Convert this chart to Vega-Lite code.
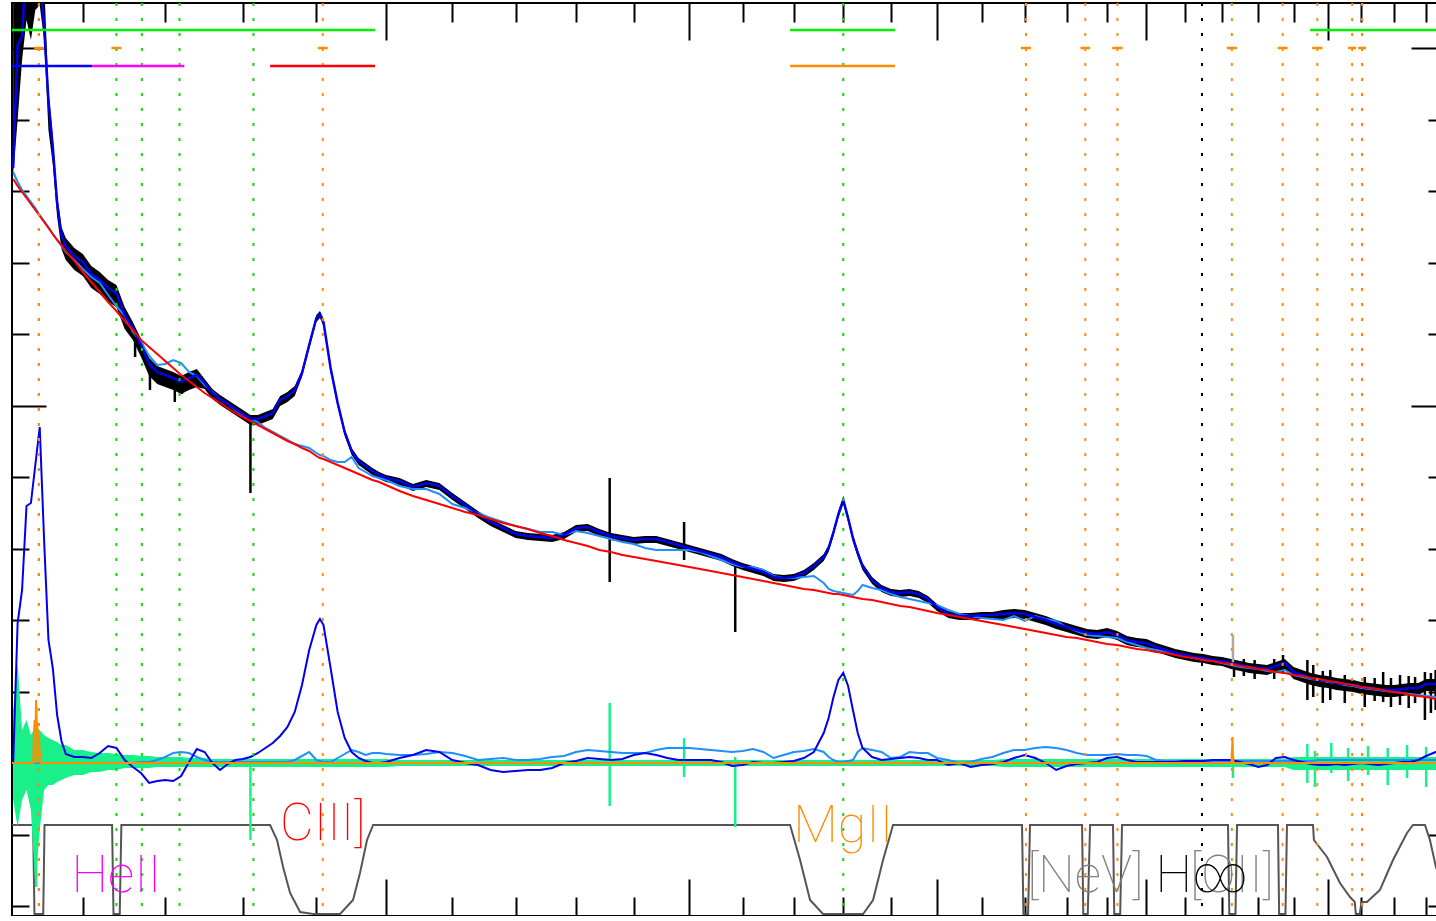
{
"$schema":"https://vega.github.io/schema/vega-lite/v6.json",
"width":1433,"height":913,
"padding":{"left":12,"top":3,"right":0,"bottom":0},
"autosize":{"type":"none"},
"background":"white",
"config":{"view":{"stroke":"#000","strokeWidth":2}},
"resolve":{"scale":{"color":"independent"},"axis":{"x":"independent","y":"independent"}},
"datasets":{
"spec":[
{"w":1520,"b":59.5,"c":59.1,"p":58.4,"hi":81.3,"lo":58.8,"r":0,"f":0,"gh":5.3,"gl":-3.7},
{"w":1525,"b":71.8,"c":58.1,"p":57.7,"hi":81.3,"lo":64.3,"r":14.0,"f":0,"gh":10.0,"gl":-6.4},
{"w":1530,"b":72.7,"c":57.3,"p":57.1,"hi":81.3,"lo":70.3,"r":17.3,"f":0,"gh":3.3,"gl":-3.7},
{"w":1535,"b":80.3,"c":56.7,"p":56.5,"hi":81.3,"lo":74.3,"r":25.7,"f":0,"gh":4.3,"gl":-2.7},
{"w":1540,"b":82.3,"c":56.1,"p":55.9,"hi":85,"lo":72.3,"r":26.0,"f":0,"gh":2.8,"gl":-4.7},
{"w":1545,"b":82.3,"c":55.5,"p":55.3,"hi":85,"lo":75.3,"r":29.8,"f":0,"gh":3.6,"gl":-12.4},
{"w":1550,"b":79.3,"c":54.8,"p":54.7,"hi":85,"lo":75.8,"r":33.6,"f":0,"gh":3.3,"gl":-6.7},
{"w":1555,"b":73.6,"c":54.2,"p":54.1,"hi":78.3,"lo":72.3,"r":22.3,"f":0,"gh":2.8,"gl":-2.7},
{"w":1560,"b":66.3,"c":53.6,"p":53.5,"hi":67.3,"lo":63.3,"r":12.3,"f":0,"gh":2.5,"gl":-2.2},
{"w":1565,"b":61.6,"c":52.9,"p":52.9,"hi":62.6,"lo":59.8,"r":9.5,"f":0,"gh":2.3,"gl":-2.2},
{"w":1570,"b":56.0,"c":52.3,"p":52.3,"hi":56.8,"lo":54.6,"r":4.8,"f":0,"gh":2.1,"gl":-1.9},
{"w":1575,"b":52.8,"c":51.7,"p":51.8,"hi":53.6,"lo":51.4,"r":2.2,"f":0,"gh":1.8,"gl":-1.7},
{"w":1580,"b":51.7,"c":51.1,"p":51.2,"hi":52.5,"lo":50.3,"r":0.9,"f":0,"gh":1.8,"gl":-1.5},
{"w":1590,"b":50.7,"c":50.3,"p":50.2,"hi":51.5,"lo":49.3,"r":0.6,"f":0,"gh":1.3,"gl":-1.2},
{"w":1600,"b":50.1,"c":49.4,"p":49.1,"hi":50.9,"lo":48.7,"r":0.6,"f":0,"gh":1.3,"gl":-1.2},
{"w":1610,"b":48.9,"c":48.6,"p":48.1,"hi":49.7,"lo":47.5,"r":0.5,"f":0,"gh":1.1,"gl":-0.9},
{"w":1620,"b":48.3,"c":48.0,"p":47.1,"hi":49.1,"lo":46.9,"r":1.0,"f":0,"gh":1.0,"gl":-0.9},
{"w":1630,"b":47.5,"c":46.8,"p":46.1,"hi":48.3,"lo":46.1,"r":1.7,"f":0,"gh":1.0,"gl":-0.7},
{"w":1640,"b":47.0,"c":45.7,"p":45.2,"hi":47.8,"lo":45.6,"r":1.5,"f":0,"gh":0.9,"gl":-0.7},
{"w":1650,"b":44.8,"c":44.7,"p":44.2,"hi":45.6,"lo":43.4,"r":0.3,"f":0,"gh":0.8,"gl":-0.5},
{"w":1660,"b":43.5,"c":43.1,"p":43.3,"hi":44.1,"lo":42.3,"r":-0.4,"f":0,"gh":0.8,"gl":-0.5},
{"w":1670,"b":41.8,"c":42.1,"p":42.3,"hi":42.4,"lo":40.6,"r":-1.0,"f":0.1,"gh":0.7,"gl":-0.5},
{"w":1680,"b":39.9,"c":40.7,"p":41.6,"hi":40.5,"lo":38.7,"r":-2.0,"f":0.1,"gh":0.7,"gl":-0.5},
{"w":1690,"b":39.1,"c":39.8,"p":40.9,"hi":39.7,"lo":37.9,"r":-1.8,"f":0.3,"gh":0.6,"gl":-0.4},
{"w":1700,"b":38.8,"c":39.9,"p":40.2,"hi":39.4,"lo":37.6,"r":-1.7,"f":0.6,"gh":0.6,"gl":-0.4},
{"w":1710,"b":38.5,"c":40.3,"p":39.5,"hi":39.1,"lo":37.3,"r":-1.8,"f":1.0,"gh":0.6,"gl":-0.4},
{"w":1720,"b":38.1,"c":40.0,"p":38.8,"hi":38.7,"lo":36.9,"r":-1.3,"f":1.1,"gh":0.6,"gl":-0.4},
{"w":1730,"b":38.5,"c":39.1,"p":38.2,"hi":39.1,"lo":37.3,"r":0.1,"f":1.0,"gh":0.5,"gl":-0.4},
{"w":1740,"b":38.8,"c":38.7,"p":37.6,"hi":39.4,"lo":37.6,"r":1.4,"f":0.6,"gh":0.5,"gl":-0.4},
{"w":1750,"b":38.0,"c":37.8,"p":37.0,"hi":38.4,"lo":37.4,"r":1.1,"f":0.3,"gh":0.5,"gl":-0.4},
{"w":1760,"b":37.0,"c":37.1,"p":36.5,"hi":37.4,"lo":36.4,"r":0,"f":0.1,"gh":0.4,"gl":-0.4},
{"w":1770,"b":36.4,"c":36.4,"p":36.0,"hi":36.8,"lo":35.8,"r":-0.7,"f":0.1,"gh":0.4,"gl":-0.4},
{"w":1780,"b":35.9,"c":35.9,"p":35.5,"hi":36.3,"lo":35.3,"r":-0.1,"f":0.1,"gh":0.4,"gl":-0.4},
{"w":1790,"b":35.4,"c":35.3,"p":35.0,"hi":35.8,"lo":34.8,"r":0.3,"f":0.1,"gh":0.4,"gl":-0.4},
{"w":1800,"b":34.9,"c":34.8,"p":34.6,"hi":35.3,"lo":34.3,"r":0.4,"f":0.1,"gh":0.4,"gl":-0.4},
{"w":1810,"b":34.4,"c":34.4,"p":34.2,"hi":34.8,"lo":33.8,"r":0.6,"f":0.1,"gh":0.4,"gl":-0.4},
{"w":1820,"b":34.4,"c":34.1,"p":33.8,"hi":34.8,"lo":33.8,"r":1.0,"f":0.1,"gh":0.4,"gl":-0.4},
{"w":1830,"b":34.7,"c":33.5,"p":33.4,"hi":35.1,"lo":34.1,"r":1.5,"f":0.1,"gh":0.4,"gl":-0.4},
{"w":1840,"b":35.0,"c":33.1,"p":33.0,"hi":35.4,"lo":34.4,"r":2.0,"f":0.1,"gh":0.4,"gl":-0.4},
{"w":1850,"b":36.3,"c":32.7,"p":32.6,"hi":36.7,"lo":35.7,"r":2.7,"f":0.1,"gh":0.4,"gl":-0.4},
{"w":1860,"b":36.7,"c":32.3,"p":32.2,"hi":37.1,"lo":36.1,"r":3.6,"f":0.1,"gh":0.4,"gl":-0.4},
{"w":1870,"b":37.3,"c":31.9,"p":31.9,"hi":37.7,"lo":36.7,"r":5.1,"f":0.3,"gh":0.4,"gl":-0.4},
{"w":1880,"b":39.0,"c":31.7,"p":31.5,"hi":39.3,"lo":38.6,"r":7.8,"f":0.7,"gh":0.4,"gl":-0.4},
{"w":1890,"b":41.8,"c":31.5,"p":31.2,"hi":42.1,"lo":41.4,"r":11.3,"f":1.1,"gh":0.4,"gl":-0.4},
{"w":1900,"b":44.5,"c":31.0,"p":30.7,"hi":44.8,"lo":44.1,"r":13.8,"f":0.3,"gh":0.4,"gl":-0.4},
{"w":1905,"b":44.9,"c":30.8,"p":30.5,"hi":45.2,"lo":44.5,"r":14.4,"f":0.2,"gh":0.4,"gl":-0.4},
{"w":1910,"b":44.1,"c":30.7,"p":30.4,"hi":44.4,"lo":43.7,"r":13.8,"f":0.1,"gh":0.4,"gl":-0.4},
{"w":1920,"b":39.5,"c":30.3,"p":30.1,"hi":39.8,"lo":39.1,"r":9.5,"f":0.1,"gh":0.4,"gl":-0.4},
{"w":1930,"b":36.0,"c":30.1,"p":29.8,"hi":36.3,"lo":35.6,"r":5.1,"f":0.5,"gh":0.4,"gl":-0.4},
{"w":1940,"b":33.1,"c":30.1,"p":29.5,"hi":33.4,"lo":32.7,"r":2.5,"f":0.9,"gh":0.4,"gl":-0.4},
{"w":1950,"b":31.2,"c":30.6,"p":29.2,"hi":31.5,"lo":30.8,"r":1.1,"f":1.3,"gh":0.4,"gl":-0.4},
{"w":1960,"b":30.2,"c":29.5,"p":28.9,"hi":30.5,"lo":29.8,"r":0.5,"f":1.1,"gh":0.4,"gl":-0.4},
{"w":1970,"b":29.7,"c":29.1,"p":28.6,"hi":30.0,"lo":29.3,"r":0.2,"f":0.8,"gh":0.4,"gl":-0.4},
{"w":1980,"b":29.2,"c":28.7,"p":28.3,"hi":29.5,"lo":28.8,"r":0,"f":1.0,"gh":0.4,"gl":-0.4},
{"w":1990,"b":28.8,"c":28.5,"p":28.1,"hi":29.1,"lo":28.4,"r":0,"f":1.0,"gh":0.4,"gl":-0.4},
{"w":2000,"b":28.5,"c":28.3,"p":27.8,"hi":28.8,"lo":28.1,"r":0.1,"f":0.9,"gh":0.4,"gl":-0.4},
{"w":2020,"b":28.2,"c":27.7,"p":27.2,"hi":28.5,"lo":27.8,"r":0.5,"f":0.8,"gh":0.3,"gl":-0.3},
{"w":2040,"b":27.6,"c":27.4,"p":26.7,"hi":27.9,"lo":27.2,"r":0.8,"f":0.8,"gh":0.3,"gl":-0.3},
{"w":2060,"b":28.0,"c":27.4,"p":26.3,"hi":28.3,"lo":27.6,"r":1.3,"f":0.9,"gh":0.3,"gl":-0.3},
{"w":2080,"b":27.7,"c":26.9,"p":25.9,"hi":28.0,"lo":27.3,"r":1.1,"f":1.1,"gh":0.3,"gl":-0.3},
{"w":2100,"b":26.7,"c":25.9,"p":25.5,"hi":27.0,"lo":26.3,"r":0.3,"f":1.0,"gh":0.3,"gl":-0.3},
{"w":2120,"b":25.8,"c":25.5,"p":25.1,"hi":26.1,"lo":25.4,"r":0,"f":0.7,"gh":0.3,"gl":-0.3},
{"w":2140,"b":24.9,"c":25.0,"p":24.8,"hi":25.2,"lo":24.5,"r":-0.2,"f":0.3,"gh":0.3,"gl":-0.3},
{"w":2160,"b":24.1,"c":24.5,"p":24.4,"hi":24.4,"lo":23.7,"r":-0.7,"f":0.4,"gh":0.3,"gl":-0.3},
{"w":2180,"b":23.5,"c":24.1,"p":24.0,"hi":23.8,"lo":23.1,"r":-0.9,"f":0.5,"gh":0.3,"gl":-0.3},
{"w":2200,"b":22.9,"c":23.7,"p":23.7,"hi":23.2,"lo":22.5,"r":-0.8,"f":0.3,"gh":0.3,"gl":-0.3},
{"w":2220,"b":22.7,"c":23.4,"p":23.4,"hi":23.0,"lo":22.3,"r":-0.7,"f":0.3,"gh":0.3,"gl":-0.3},
{"w":2240,"b":22.6,"c":23.1,"p":23.0,"hi":22.9,"lo":22.2,"r":-0.7,"f":0.4,"gh":0.3,"gl":-0.3},
{"w":2260,"b":22.5,"c":23.1,"p":22.7,"hi":22.8,"lo":22.1,"r":-0.5,"f":0.6,"gh":0.3,"gl":-0.3},
{"w":2280,"b":22.8,"c":22.8,"p":22.3,"hi":23.1,"lo":22.4,"r":0,"f":0.7,"gh":0.3,"gl":-0.3},
{"w":2300,"b":23.5,"c":23.2,"p":22.0,"hi":23.8,"lo":23.1,"r":0.2,"f":1.1,"gh":0.3,"gl":-0.3},
{"w":2320,"b":23.6,"c":23.0,"p":21.7,"hi":23.9,"lo":23.2,"r":0.5,"f":1.3,"gh":0.3,"gl":-0.3},
{"w":2340,"b":23.1,"c":22.7,"p":21.3,"hi":23.4,"lo":22.7,"r":0.4,"f":1.2,"gh":0.3,"gl":-0.3},
{"w":2360,"b":22.7,"c":22.4,"p":21.1,"hi":23.0,"lo":22.3,"r":0.3,"f":1.1,"gh":0.3,"gl":-0.3},
{"w":2380,"b":22.5,"c":22.1,"p":20.8,"hi":22.8,"lo":22.1,"r":0.4,"f":1.0,"gh":0.3,"gl":-0.3},
{"w":2400,"b":22.3,"c":21.9,"p":20.6,"hi":22.6,"lo":21.9,"r":0.8,"f":1.0,"gh":0.3,"gl":-0.3},
{"w":2420,"b":22.4,"c":21.5,"p":20.4,"hi":22.7,"lo":22.0,"r":1.0,"f":1.0,"gh":0.3,"gl":-0.3},
{"w":2440,"b":22.4,"c":21.3,"p":20.2,"hi":22.7,"lo":22.0,"r":0.8,"f":1.3,"gh":0.3,"gl":-0.3},
{"w":2460,"b":22.1,"c":21.3,"p":20.0,"hi":22.4,"lo":21.7,"r":0.5,"f":1.5,"gh":0.3,"gl":-0.3},
{"w":2480,"b":21.8,"c":21.3,"p":19.8,"hi":22.1,"lo":21.4,"r":0.3,"f":1.5,"gh":0.3,"gl":-0.3},
{"w":2500,"b":21.5,"c":21.3,"p":19.6,"hi":21.8,"lo":21.1,"r":0.3,"f":1.5,"gh":0.3,"gl":-0.3},
{"w":2520,"b":21.2,"c":21.1,"p":19.4,"hi":21.5,"lo":20.8,"r":0.3,"f":1.4,"gh":0.3,"gl":-0.3},
{"w":2540,"b":20.9,"c":20.7,"p":19.2,"hi":21.2,"lo":20.5,"r":0.3,"f":1.3,"gh":0.3,"gl":-0.3},
{"w":2560,"b":20.6,"c":20.3,"p":19.0,"hi":20.9,"lo":20.2,"r":0.1,"f":1.2,"gh":0.3,"gl":-0.3},
{"w":2580,"b":20.1,"c":19.9,"p":18.8,"hi":20.4,"lo":19.7,"r":-0.3,"f":1.1,"gh":0.3,"gl":-0.3},
{"w":2600,"b":19.7,"c":19.6,"p":18.6,"hi":20.0,"lo":19.3,"r":-0.2,"f":1.2,"gh":0.3,"gl":-0.3},
{"w":2620,"b":19.4,"c":19.6,"p":18.4,"hi":19.7,"lo":19.0,"r":0.1,"f":1.4,"gh":0.3,"gl":-0.3},
{"w":2640,"b":19.1,"c":19.3,"p":18.2,"hi":19.4,"lo":18.7,"r":0,"f":1.1,"gh":0.3,"gl":-0.3},
{"w":2660,"b":18.6,"c":18.7,"p":18.0,"hi":18.9,"lo":18.2,"r":0,"f":0.5,"gh":0.3,"gl":-0.3},
{"w":2680,"b":18.5,"c":18.5,"p":17.8,"hi":18.8,"lo":18.1,"r":0.1,"f":0.8,"gh":0.3,"gl":-0.3},
{"w":2700,"b":18.6,"c":18.5,"p":17.6,"hi":18.9,"lo":18.2,"r":0.2,"f":1.1,"gh":0.3,"gl":-0.3},
{"w":2720,"b":19.0,"c":18.6,"p":17.4,"hi":19.3,"lo":18.6,"r":0.5,"f":1.2,"gh":0.3,"gl":-0.3},
{"w":2740,"b":19.7,"c":18.7,"p":17.3,"hi":20.0,"lo":19.3,"r":1.1,"f":1.4,"gh":0.3,"gl":-0.3},
{"w":2760,"b":20.6,"c":18.0,"p":17.1,"hi":20.9,"lo":20.2,"r":3.0,"f":1.1,"gh":0.3,"gl":-0.3},
{"w":2770,"b":21.5,"c":17.4,"p":17.0,"hi":21.8,"lo":21.1,"r":4.5,"f":0.6,"gh":0.3,"gl":-0.3},
{"w":2780,"b":23.1,"c":17.2,"p":16.9,"hi":23.4,"lo":22.7,"r":6.6,"f":0.3,"gh":0.3,"gl":-0.3},
{"w":2790,"b":24.9,"c":17.1,"p":16.9,"hi":25.2,"lo":24.5,"r":8.3,"f":0.1,"gh":0.3,"gl":-0.3},
{"w":2800,"b":26.3,"c":17.0,"p":16.8,"hi":26.6,"lo":25.9,"r":9.0,"f":0.1,"gh":0.3,"gl":-0.3},
{"w":2810,"b":24.5,"c":16.9,"p":16.7,"hi":24.8,"lo":24.1,"r":7.7,"f":0.2,"gh":0.3,"gl":-0.3},
{"w":2820,"b":22.5,"c":16.8,"p":16.6,"hi":22.8,"lo":22.1,"r":5.3,"f":0.3,"gh":0.3,"gl":-0.3},
{"w":2830,"b":21.0,"c":17.2,"p":16.5,"hi":21.3,"lo":20.6,"r":3.0,"f":1.1,"gh":0.3,"gl":-0.3},
{"w":2840,"b":19.7,"c":17.8,"p":16.4,"hi":20.0,"lo":19.3,"r":1.5,"f":1.5,"gh":0.3,"gl":-0.3},
{"w":2860,"b":18.3,"c":17.5,"p":16.3,"hi":18.6,"lo":17.9,"r":0.6,"f":1.3,"gh":0.3,"gl":-0.3},
{"w":2880,"b":17.5,"c":17.3,"p":16.1,"hi":17.8,"lo":17.1,"r":0.3,"f":1.1,"gh":0.3,"gl":-0.3},
{"w":2900,"b":17.1,"c":16.9,"p":15.9,"hi":17.4,"lo":16.7,"r":0.4,"f":0.5,"gh":0.3,"gl":-0.3},
{"w":2920,"b":17.0,"c":16.6,"p":15.7,"hi":17.3,"lo":16.6,"r":0.5,"f":0.6,"gh":0.3,"gl":-0.3},
{"w":2940,"b":17.1,"c":16.4,"p":15.6,"hi":17.4,"lo":16.7,"r":0.6,"f":1.1,"gh":0.3,"gl":-0.3},
{"w":2960,"b":16.9,"c":16.2,"p":15.4,"hi":17.2,"lo":16.5,"r":0.5,"f":1.0,"gh":0.3,"gl":-0.3},
{"w":2980,"b":16.4,"c":16.0,"p":15.2,"hi":16.7,"lo":16.0,"r":0.3,"f":1.0,"gh":0.3,"gl":-0.3},
{"w":3000,"b":15.6,"c":15.8,"p":15.0,"hi":15.9,"lo":15.2,"r":0.3,"f":0.5,"gh":0.3,"gl":-0.3},
{"w":3025,"b":14.9,"c":15.3,"p":14.8,"hi":15.2,"lo":14.5,"r":-0.2,"f":0.3,"gh":0.3,"gl":-0.3},
{"w":3050,"b":14.7,"c":14.9,"p":14.6,"hi":15.0,"lo":14.3,"r":0,"f":0,"gh":0.3,"gl":-0.3},
{"w":3075,"b":14.7,"c":14.7,"p":14.4,"hi":15.0,"lo":14.3,"r":-0.4,"f":0.1,"gh":0.3,"gl":-0.3},
{"w":3100,"b":14.8,"c":14.5,"p":14.2,"hi":15.1,"lo":14.4,"r":-0.2,"f":0.4,"gh":0.3,"gl":-0.3},
{"w":3125,"b":14.8,"c":14.4,"p":14.0,"hi":15.1,"lo":14.4,"r":-0.1,"f":0.6,"gh":0.3,"gl":-0.3},
{"w":3150,"b":14.9,"c":14.3,"p":13.8,"hi":15.3,"lo":14.4,"r":0.1,"f":1.0,"gh":0.4,"gl":-0.4},
{"w":3175,"b":15.0,"c":14.7,"p":13.6,"hi":15.4,"lo":14.5,"r":0.5,"f":1.3,"gh":0.4,"gl":-0.4},
{"w":3200,"b":14.9,"c":14.2,"p":13.4,"hi":15.3,"lo":14.4,"r":0.8,"f":1.3,"gh":0.4,"gl":-0.4},
{"w":3225,"b":14.6,"c":14.7,"p":13.2,"hi":15.0,"lo":14.1,"r":0.5,"f":1.5,"gh":0.4,"gl":-0.4},
{"w":3250,"b":14.3,"c":14.4,"p":13.0,"hi":14.7,"lo":13.8,"r":0,"f":1.6,"gh":0.4,"gl":-0.4},
{"w":3275,"b":13.9,"c":14.2,"p":12.8,"hi":14.3,"lo":13.4,"r":-0.7,"f":1.5,"gh":0.4,"gl":-0.4},
{"w":3300,"b":13.6,"c":13.6,"p":12.6,"hi":14.0,"lo":13.1,"r":-0.3,"f":1.3,"gh":0.4,"gl":-0.4},
{"w":3325,"b":13.3,"c":13.2,"p":12.5,"hi":13.7,"lo":12.8,"r":-0.1,"f":1.0,"gh":0.4,"gl":-0.4},
{"w":3350,"b":13.0,"c":12.8,"p":12.3,"hi":13.4,"lo":12.5,"r":0,"f":0.8,"gh":0.4,"gl":-0.4},
{"w":3375,"b":12.9,"c":12.7,"p":12.1,"hi":13.3,"lo":12.4,"r":0.1,"f":0.8,"gh":0.4,"gl":-0.4},
{"w":3400,"b":13.1,"c":12.6,"p":11.9,"hi":13.5,"lo":12.6,"r":0.5,"f":0.8,"gh":0.4,"gl":-0.4},
{"w":3425,"b":12.8,"c":12.5,"p":11.8,"hi":13.2,"lo":12.3,"r":0.6,"f":0.9,"gh":0.4,"gl":-0.4},
{"w":3450,"b":12.3,"c":12.1,"p":11.6,"hi":12.7,"lo":11.8,"r":0.3,"f":0.8,"gh":0.4,"gl":-0.4},
{"w":3475,"b":12.1,"c":11.8,"p":11.4,"hi":12.5,"lo":11.6,"r":0.1,"f":0.8,"gh":0.4,"gl":-0.4},
{"w":3500,"b":12.0,"c":11.5,"p":11.3,"hi":12.4,"lo":11.5,"r":0.1,"f":0.7,"gh":0.4,"gl":-0.4},
{"w":3525,"b":11.6,"c":11.3,"p":11.1,"hi":12.0,"lo":11.1,"r":0.1,"f":0.3,"gh":0.4,"gl":-0.4},
{"w":3550,"b":11.3,"c":11.1,"p":11.0,"hi":11.7,"lo":10.8,"r":0.1,"f":0.2,"gh":0.4,"gl":-0.4},
{"w":3575,"b":11.0,"c":10.9,"p":10.8,"hi":11.4,"lo":10.5,"r":0.1,"f":0.2,"gh":0.4,"gl":-0.4},
{"w":3600,"b":10.8,"c":10.7,"p":10.6,"hi":11.2,"lo":10.3,"r":0.2,"f":0.2,"gh":0.4,"gl":-0.4},
{"w":3625,"b":10.6,"c":10.5,"p":10.5,"hi":11.0,"lo":10.1,"r":0.2,"f":0.2,"gh":0.4,"gl":-0.4},
{"w":3650,"b":10.5,"c":10.3,"p":10.3,"hi":10.9,"lo":10.0,"r":0.2,"f":0.2,"gh":0.4,"gl":-0.4},
{"w":3675,"b":10.3,"c":10.2,"p":10.2,"hi":10.7,"lo":9.8,"r":0.3,"f":0.2,"gh":0.4,"gl":-0.4},
{"w":3700,"b":10.2,"c":10.0,"p":10.0,"hi":10.6,"lo":9.7,"r":0.3,"f":0.2,"gh":0.4,"gl":-0.4},
{"w":3725,"b":10.0,"c":9.8,"p":9.9,"hi":10.4,"lo":9.4,"r":0.3,"f":0.2,"gh":0.4,"gl":-0.4},
{"w":3750,"b":9.8,"c":9.6,"p":9.7,"hi":10.2,"lo":9.2,"r":0.1,"f":0.2,"gh":0.4,"gl":-0.4},
{"w":3775,"b":9.6,"c":9.5,"p":9.6,"hi":10.0,"lo":9.0,"r":-0.1,"f":0.2,"gh":0.4,"gl":-0.4},
{"w":3800,"b":9.5,"c":9.4,"p":9.4,"hi":9.9,"lo":8.9,"r":-0.4,"f":0.2,"gh":0.4,"gl":-0.4},
{"w":3825,"b":9.4,"c":9.2,"p":9.3,"hi":9.8,"lo":8.8,"r":-0.2,"f":0.2,"gh":0.4,"gl":-0.4},
{"w":3850,"b":9.7,"c":9.1,"p":9.1,"hi":10.1,"lo":9.1,"r":0.5,"f":0.2,"gh":0.4,"gl":-0.4},
{"w":3875,"b":10.0,"c":9.3,"p":9.0,"hi":10.4,"lo":9.4,"r":0.6,"f":0.2,"gh":0.4,"gl":-0.4},
{"w":3900,"b":9.1,"c":8.8,"p":8.8,"hi":9.6,"lo":8.4,"r":0.3,"f":0.2,"gh":0.6,"gl":-0.7},
{"w":3925,"b":8.8,"c":8.6,"p":8.7,"hi":9.3,"lo":8.1,"r":0.1,"f":0.2,"gh":0.6,"gl":-0.7},
{"w":3950,"b":8.5,"c":8.4,"p":8.5,"hi":9.0,"lo":7.8,"r":-0.1,"f":0.2,"gh":0.6,"gl":-0.7},
{"w":3975,"b":8.3,"c":8.3,"p":8.4,"hi":8.8,"lo":7.6,"r":-0.2,"f":0.3,"gh":0.6,"gl":-0.7},
{"w":4000,"b":8.2,"c":8.1,"p":8.2,"hi":8.7,"lo":7.5,"r":-0.2,"f":0.3,"gh":0.6,"gl":-0.7},
{"w":4025,"b":8.0,"c":8.0,"p":8.1,"hi":8.5,"lo":7.3,"r":-0.1,"f":0.3,"gh":0.6,"gl":-0.7},
{"w":4050,"b":7.9,"c":7.8,"p":7.9,"hi":8.4,"lo":7.2,"r":-0.2,"f":0.3,"gh":0.6,"gl":-0.7},
{"w":4075,"b":7.8,"c":7.7,"p":7.8,"hi":8.3,"lo":7.1,"r":-0.1,"f":0.3,"gh":0.6,"gl":-0.7},
{"w":4100,"b":7.6,"c":7.5,"p":7.6,"hi":8.1,"lo":6.9,"r":0,"f":0.3,"gh":0.6,"gl":-0.7},
{"w":4125,"b":7.5,"c":7.4,"p":7.5,"hi":8.0,"lo":6.8,"r":-0.1,"f":0.3,"gh":0.6,"gl":-0.7},
{"w":4150,"b":7.4,"c":7.3,"p":7.4,"hi":7.9,"lo":6.7,"r":-0.2,"f":0.3,"gh":0.6,"gl":-0.7},
{"w":4175,"b":7.3,"c":7.2,"p":7.2,"hi":7.8,"lo":6.6,"r":-0.1,"f":0.3,"gh":0.6,"gl":-0.7},
{"w":4200,"b":7.3,"c":7.1,"p":7.1,"hi":7.8,"lo":6.6,"r":0,"f":0.3,"gh":0.6,"gl":-0.7},
{"w":4225,"b":7.4,"c":7.0,"p":7.0,"hi":7.9,"lo":6.7,"r":0.1,"f":0.3,"gh":0.6,"gl":-0.7},
{"w":4250,"b":7.5,"c":6.9,"p":6.8,"hi":8.0,"lo":6.8,"r":0.1,"f":0.3,"gh":0.6,"gl":-0.7},
{"w":4275,"b":7.5,"c":6.8,"p":6.7,"hi":8.0,"lo":6.8,"r":0.3,"f":0.3,"gh":0.6,"gl":-0.7},
{"w":4300,"b":7.9,"c":6.7,"p":6.6,"hi":8.4,"lo":7.2,"r":0.7,"f":0.3,"gh":0.6,"gl":-0.7},
{"w":4330,"b":7.9,"c":6.6,"p":6.4,"hi":8.4,"lo":7.2,"r":1.1,"f":0.3,"gh":0.6,"gl":-0.7},
{"w":4360,"b":8.0,"c":6.4,"p":6.3,"hi":8.5,"lo":7.3,"r":1.2,"f":0.3,"gh":0.6,"gl":-0.7}
],
"orange":[
{"w":1518.7,"o":0},{"w":1542.5,"o":0},{"w":1543.5,"o":3.0},{"w":1544.2,"o":4.3},{"w":1545.0,"o":2.5},{"w":1545.9,"o":6.3},{"w":1546.7,"o":4.0},{"w":1547.6,"o":3.3},{"w":1548.5,"o":2.5},{"w":1549.3,"o":2.3},{"w":1550.5,"o":0.5},{"w":1551.6,"o":0},{"w":3726,"o":0},{"w":3729,"o":2.6},{"w":3730,"o":0.8},{"w":3732,"o":0},{"w":4360,"o":0}
],
"mask":[
{"w":1518.7,"m":-6.2},{"w":1542.5,"m":-6.2},{"w":1544.0,"m":-15.1},{"w":1554.0,"m":-15.1},{"w":1555.5,"m":-6.2},{"w":1634.8,"m":-6.2},{"w":1636.5,"m":-15.1},{"w":1644.0,"m":-15.1},{"w":1646.0,"m":-6.2},{"w":1836.4,"m":-6.2},{"w":1845.8,"m":-7.7},{"w":1854,"m":-10.4},{"w":1863.6,"m":-13.0},{"w":1877.4,"m":-14.9},{"w":1895.4,"m":-15.1},{"w":1933.4,"m":-15.1},{"w":1952,"m":-13.7},{"w":1962,"m":-11.0},{"w":1972.2,"m":-7.7},{"w":1981,"m":-6.2},{"w":2692.5,"m":-6.2},{"w":2712.4,"m":-9.7},{"w":2732.4,"m":-13.7},{"w":2758.6,"m":-15.1},{"w":2841.2,"m":-15.1},{"w":2862.1,"m":-13.7},{"w":2883.2,"m":-9.7},{"w":2904.5,"m":-6.2},{"w":3193.7,"m":-6.2},{"w":3197,"m":-15.1},{"w":3208,"m":-15.1},{"w":3212.5,"m":-6.2},{"w":3338,"m":-6.2},{"w":3341,"m":-15.1},{"w":3352,"m":-15.1},{"w":3357.7,"m":-6.2},{"w":3414.9,"m":-6.2},{"w":3418,"m":-15.1},{"w":3433,"m":-15.1},{"w":3437.6,"m":-6.2},{"w":3716.5,"m":-6.2},{"w":3720,"m":-15.1},{"w":3737,"m":-15.1},{"w":3741.2,"m":-6.2},{"w":3855.7,"m":-6.2},{"w":3859,"m":-15.1},{"w":3877,"m":-15.1},{"w":3881.3,"m":-6.2},{"w":3956.4,"m":-6.2},{"w":3959,"m":-7.7},{"w":3997.4,"m":-9.4},{"w":4035.7,"m":-12.0},{"w":4065.5,"m":-13.4},{"w":4080,"m":-13.9},{"w":4083,"m":-15.1},{"w":4095,"m":-15.1},{"w":4100,"m":-13.9},{"w":4116.6,"m":-13.9},{"w":4156.2,"m":-12.7},{"w":4196.3,"m":-9.7},{"w":4239.7,"m":-7.0},{"w":4258.4,"m":-6.2},{"w":4296.2,"m":-6.2},{"w":4312,"m":-7.7},{"w":4331,"m":-10.4},{"w":4360,"m":-12.5}
],
"spk":[
{"w":1662.7,"y1":43.0,"y2":40.6,"k":"obs"},{"w":1681,"y1":40.0,"y2":37.3,"k":"obs"},{"w":1712,"y1":38.5,"y2":36.1,"k":"obs"},{"w":1721,"y1":38.0,"y2":36.9,"k":"obs"},{"w":1810,"y1":34.4,"y2":27.0,"k":"obs"},{"w":2357.8,"y1":28.5,"y2":18.1,"k":"obs"},{"w":2490.5,"y1":24.1,"y2":20.3,"k":"obs"},{"w":2586,"y1":20.0,"y2":13.1,"k":"obs"},
{"w":3733,"y1":10.3,"y2":8.6,"k":"obs"},{"w":3760,"y1":10.4,"y2":8.7,"k":"obs"},{"w":3790,"y1":10.3,"y2":8.4,"k":"obs"},{"w":3845,"y1":10.4,"y2":8.4,"k":"obs"},{"w":3870,"y1":10.8,"y2":8.9,"k":"obs"},
{"w":3940,"y1":10.3,"y2":6.3,"k":"obs"},{"w":3957,"y1":9.8,"y2":6.6,"k":"obs"},{"w":3985,"y1":9.2,"y2":6.0,"k":"obs"},{"w":4007,"y1":9.3,"y2":6.3,"k":"obs"},{"w":4050,"y1":8.8,"y2":6.0,"k":"obs"},{"w":4110,"y1":8.6,"y2":5.6,"k":"obs"},{"w":4140,"y1":8.5,"y2":6.2,"k":"obs"},{"w":4166,"y1":9.1,"y2":6.1,"k":"obs"},{"w":4190,"y1":8.5,"y2":5.6,"k":"obs"},{"w":4218,"y1":8.8,"y2":5.8,"k":"obs"},{"w":4245,"y1":8.7,"y2":5.5,"k":"obs"},{"w":4265,"y1":8.6,"y2":6.0,"k":"obs"},{"w":4296,"y1":9.1,"y2":4.3,"k":"obs"},{"w":4315,"y1":9.0,"y2":5.0,"k":"obs"},{"w":4330,"y1":9.3,"y2":5.3,"k":"obs"},
{"w":1810,"y1":0,"y2":-7.7,"k":"res"},{"w":2357.8,"y1":6.0,"y2":-4.3,"k":"res"},{"w":2490.5,"y1":2.5,"y2":-1.4,"k":"res"},{"w":2586,"y1":0.6,"y2":-6.4,"k":"res"},{"w":3730,"y1":0.5,"y2":-1.5,"k":"res"},{"w":1545.9,"y1":3.6,"y2":-12.4,"k":"res"},
{"w":3940,"y1":1.9,"y2":-2.0,"k":"res"},{"w":3962,"y1":1.2,"y2":-2.4,"k":"res"},{"w":4010,"y1":2.0,"y2":-1.0,"k":"res"},{"w":4060,"y1":1.5,"y2":-1.8,"k":"res"},{"w":4120,"y1":1.7,"y2":-1.2,"k":"res"},{"w":4180,"y1":1.5,"y2":-2.2,"k":"res"},{"w":4240,"y1":1.8,"y2":-1.5,"k":"res"},{"w":4300,"y1":1.6,"y2":-2.4,"k":"res"},{"w":4335,"y1":1.4,"y2":-2.0,"k":"res"},
{"w":3730,"y1":9.9,"y2":12.8,"k":"sky"}
],
"lines":[
{"w":1549,"set":"broad"},{"w":1549,"set":"narrow"},{"w":1640,"set":"broad"},{"w":1671,"set":"broad"},{"w":1718,"set":"broad"},{"w":1814,"set":"broad"},{"w":1909,"set":"narrow"},{"w":2800,"set":"broad"},{"w":3203,"set":"narrow"},{"w":3346,"set":"narrow"},{"w":3426,"set":"narrow"},{"w":3646,"set":"limit"},{"w":3727,"set":"narrow"},{"w":3869,"set":"narrow"},{"w":3969,"set":"narrow"},{"w":4072,"set":"narrow"},{"w":4102,"set":"broad"},{"w":4102,"set":"narrow"}
],
"segs":[
{"w1":1518.7,"w2":1984,"y":73.3,"set":"window"},{"w1":2692.5,"w2":2909,"y":73.3,"set":"window"},{"w1":3948,"w2":4360,"y":73.3,"set":"window"},
{"w1":1518.7,"w2":1611,"y":69.7,"set":"CIV"},{"w1":1611,"w2":1724,"y":69.7,"set":"HeII"},{"w1":1836.4,"w2":1984,"y":69.7,"set":"CIII]"},{"w1":2692.5,"w2":2909,"y":69.7,"set":"MgII"},
{"w1":1543.5,"w2":1555,"y":71.5,"set":"narrow"},{"w1":1634,"w2":1646,"y":71.5,"set":"narrow"},{"w1":1902,"w2":1916,"y":71.5,"set":"narrow"},{"w1":3191,"w2":3215,"y":71.5,"set":"narrow"},{"w1":3334,"w2":3358,"y":71.5,"set":"narrow"},{"w1":3413,"w2":3439,"y":71.5,"set":"narrow"},{"w1":3713,"w2":3741,"y":71.5,"set":"narrow"},{"w1":3855,"w2":3883,"y":71.5,"set":"narrow"},{"w1":3954,"w2":3984,"y":71.5,"set":"narrow"},{"w1":4060,"w2":4084,"y":71.5,"set":"narrow"},{"w1":4090,"w2":4114,"y":71.5,"set":"narrow"}
],
"labels":[
{"t":"HeII","w":1640,"y":-12.9},{"t":"CIII]","w":1909,"y":-7.7},{"t":"MgII","w":2800,"y":-7.9},{"t":"[NeV]","w":3346,"y":-12.9},{"t":"[OII]","w":3727,"y":-12.9},{"t":"H∞","w":3646,"y":-12.9}
]
},
"layer":[
{"data":{"name":"mask"},"mark":{"type":"line","color":"#555555","strokeWidth":2,"clip":true},
 "encoding":{"x":{"field":"w","type":"quantitative","scale":{"type":"log","domain":[1518.7,4360],"nice":false},
   "axis":{"orient":"bottom","values":[1600,1700,1800,1900,2100,2200,2300,2400,2600,2700,2800,2900,3100,3200,3300,3400,3600,3700,3800,3900,4100,4200,4300],"tickSize":-19,"labels":false,"domain":false,"grid":false,"title":null,"tickColor":"#000","tickWidth":2}},
  "y":{"field":"m","type":"quantitative","scale":{"domain":[-15.3,76],"nice":false,"zero":false},
   "axis":{"orient":"left","values":[-14.3,-7.15,0,7.15,14.3,21.45,28.6,42.9,50.05,57.2,64.35],"tickSize":-17,"labels":false,"domain":false,"grid":false,"title":null,"tickColor":"#000","tickWidth":2}}}},
{"data":{"name":"spec"},"mark":{"type":"area","color":"#19f08a","clip":true},
 "encoding":{"x":{"field":"w","type":"quantitative","scale":{"type":"log","domain":[1518.7,4360],"nice":false},"axis":null},
  "y":{"field":"gh","type":"quantitative","scale":{"domain":[-15.3,76],"nice":false,"zero":false},"axis":null},"y2":{"field":"gl"}}},
{"data":{"name":"spk"},"transform":[{"filter":"datum.k === 'res'"}],"mark":{"type":"rule","color":"#19f08a","strokeWidth":2.5,"clip":true},
 "encoding":{"x":{"field":"w","type":"quantitative","scale":{"type":"log","domain":[1518.7,4360],"nice":false},"axis":null},
  "y":{"field":"y1","type":"quantitative","scale":{"domain":[-15.3,76],"nice":false,"zero":false},"axis":null},"y2":{"field":"y2"}}},
{"data":{"name":"spec"},"mark":{"type":"line","color":"#1e8fff","strokeWidth":2,"clip":true},
 "encoding":{"x":{"field":"w","type":"quantitative","scale":{"type":"log","domain":[1518.7,4360],"nice":false},"axis":null},
  "y":{"field":"f","type":"quantitative","scale":{"domain":[-15.3,76],"nice":false,"zero":false},"axis":null}}},
{"data":{"name":"spec"},"mark":{"type":"line","color":"#0000ee","strokeWidth":2,"clip":true},
 "encoding":{"x":{"field":"w","type":"quantitative","scale":{"type":"log","domain":[1518.7,4360],"nice":false},"axis":null},
  "y":{"field":"r","type":"quantitative","scale":{"domain":[-15.3,76],"nice":false,"zero":false},"axis":null}}},
{"data":{"name":"orange"},"mark":{"type":"area","color":"#ff8c00","line":{"color":"#ff8c00","strokeWidth":2},"clip":true},
 "encoding":{"x":{"field":"w","type":"quantitative","scale":{"type":"log","domain":[1518.7,4360],"nice":false},"axis":null},
  "y":{"field":"o","type":"quantitative","scale":{"domain":[-15.3,76],"nice":false,"zero":false},"axis":null}}},
{"data":{"name":"spec"},"mark":{"type":"area","color":"#000000","clip":true},
 "encoding":{"x":{"field":"w","type":"quantitative","scale":{"type":"log","domain":[1518.7,4360],"nice":false},"axis":null},
  "y":{"field":"hi","type":"quantitative","scale":{"domain":[-15.3,76],"nice":false,"zero":false},"axis":null},"y2":{"field":"lo"}}},
{"data":{"name":"spk"},"transform":[{"filter":"datum.k === 'obs'"}],"mark":{"type":"rule","color":"#000000","strokeWidth":2.5,"clip":true},
 "encoding":{"x":{"field":"w","type":"quantitative","scale":{"type":"log","domain":[1518.7,4360],"nice":false},"axis":null},
  "y":{"field":"y1","type":"quantitative","scale":{"domain":[-15.3,76],"nice":false,"zero":false},"axis":null},"y2":{"field":"y2"}}},
{"data":{"name":"spk"},"transform":[{"filter":"datum.k === 'sky'"}],"mark":{"type":"rule","color":"#aaaaaa","strokeWidth":2.5,"clip":true},
 "encoding":{"x":{"field":"w","type":"quantitative","scale":{"type":"log","domain":[1518.7,4360],"nice":false},"axis":null},
  "y":{"field":"y1","type":"quantitative","scale":{"domain":[-15.3,76],"nice":false,"zero":false},"axis":null},"y2":{"field":"y2"}}},
{"data":{"name":"spec"},"mark":{"type":"line","color":"#1e8fff","strokeWidth":2,"clip":true},
 "encoding":{"x":{"field":"w","type":"quantitative","scale":{"type":"log","domain":[1518.7,4360],"nice":false},
   "axis":{"orient":"top","values":[1600,1700,1800,1900,2100,2200,2300,2400,2600,2700,2800,2900,3100,3200,3300,3400,3600,3700,3800,3900,4100,4200,4300],"tickSize":-19,"labels":false,"domain":false,"grid":false,"title":null,"tickColor":"#000","tickWidth":2}},
  "y":{"field":"c","type":"quantitative","scale":{"domain":[-15.3,76],"nice":false,"zero":false},
   "axis":{"orient":"right","values":[-14.3,-7.15,0,7.15,14.3,21.45,28.6,42.9,50.05,57.2,64.35],"tickSize":-17,"labels":false,"domain":false,"grid":false,"title":null,"tickColor":"#000","tickWidth":2}}}},
{"data":{"name":"spec"},"mark":{"type":"line","color":"#0000ee","strokeWidth":2.5,"clip":true},
 "encoding":{"x":{"field":"w","type":"quantitative","scale":{"type":"log","domain":[1518.7,4360],"nice":false},
   "axis":{"orient":"top","values":[2000,2500,3000,3500,4000],"tickSize":-37,"labels":false,"domain":false,"grid":false,"title":null,"tickColor":"#000","tickWidth":2}},
  "y":{"field":"b","type":"quantitative","scale":{"domain":[-15.3,76],"nice":false,"zero":false},
   "axis":{"orient":"right","values":[35.75,71.5],"tickSize":-34,"labels":false,"domain":false,"grid":false,"title":null,"tickColor":"#000","tickWidth":2}}}},
{"data":{"name":"spec"},"mark":{"type":"line","color":"#ff0000","strokeWidth":2,"clip":true},
 "encoding":{"x":{"field":"w","type":"quantitative","scale":{"type":"log","domain":[1518.7,4360],"nice":false},
   "axis":{"orient":"bottom","values":[2000,2500,3000,3500,4000],"tickSize":-37,"labels":false,"domain":false,"grid":false,"title":null,"tickColor":"#000","tickWidth":2}},
  "y":{"field":"p","type":"quantitative","scale":{"domain":[-15.3,76],"nice":false,"zero":false},
   "axis":{"orient":"left","values":[35.75,71.5],"tickSize":-34,"labels":false,"domain":false,"grid":false,"title":null,"tickColor":"#000","tickWidth":2}}}},
{"data":{"name":"lines"},"mark":{"type":"rule","strokeWidth":2,"strokeDash":[3,12],"clip":true},
 "encoding":{"x":{"field":"w","type":"quantitative","scale":{"type":"log","domain":[1518.7,4360],"nice":false},"axis":null},
  "color":{"field":"set","type":"nominal","scale":{"domain":["broad","narrow","limit"],"range":["#00e000","#ff8c00","#000000"]},"legend":null}}},
{"data":{"name":"segs"},"mark":{"type":"rule","strokeWidth":2.5,"clip":true},
 "encoding":{"x":{"field":"w1","type":"quantitative","scale":{"type":"log","domain":[1518.7,4360],"nice":false},"axis":null},"x2":{"field":"w2"},
  "y":{"field":"y","type":"quantitative","scale":{"domain":[-15.3,76],"nice":false,"zero":false},"axis":null},
  "color":{"field":"set","type":"nominal","scale":{"domain":["window","CIV","HeII","CIII]","MgII","narrow"],"range":["#00f000","#0000ff","#ff00ff","#ff0000","#ff8c00","#ff8c00"]},"legend":null}}},
{"data":{"name":"labels"},"mark":{"type":"text","font":"Roboto","fontWeight":100,"fontSize":52,"align":"center","baseline":"alphabetic"},
 "encoding":{"x":{"field":"w","type":"quantitative","scale":{"type":"log","domain":[1518.7,4360],"nice":false},"axis":null},
  "y":{"field":"y","type":"quantitative","scale":{"domain":[-15.3,76],"nice":false,"zero":false},"axis":null},
  "text":{"field":"t"},
  "color":{"field":"t","type":"nominal","scale":{"domain":["HeII","CIII]","MgII","[NeV]","[OII]","H∞"],"range":["#ff00ff","#ff0000","#ff8c00","#808080","#808080","#000000"]},"legend":null}}}
]
}
